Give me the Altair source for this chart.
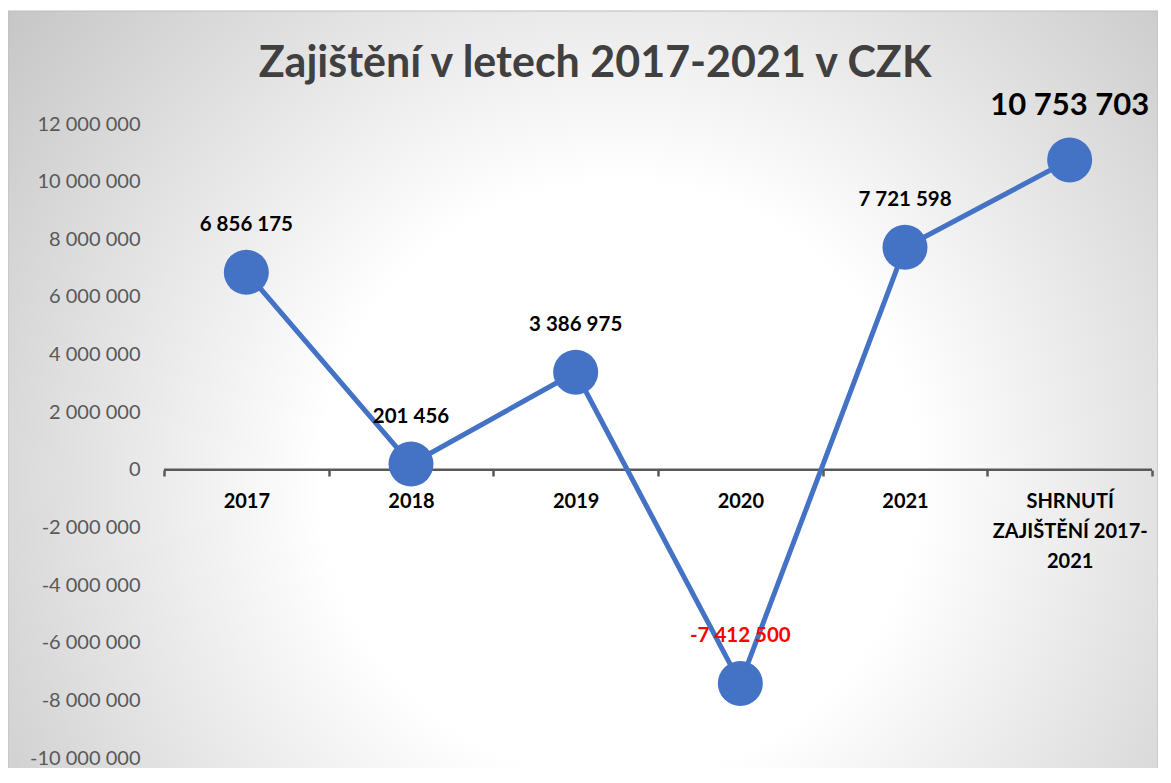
import json
import altair as alt
import pandas as pd

# ---- data ----
categories = ["2017", "2018", "2019", "2020", "2021", "SHRNUTÍ ZAJIŠTĚNÍ 2017-2021"]
values = [6856175, 201456, 3386975, -7412500, 7721598, 10753703]
summary_label_lines = ["SHRNUTÍ", "ZAJIŠTĚNÍ 2017-", "2021"]
y_ticks = [-10000000, -8000000, -6000000, -4000000, -2000000, 0,
           2000000, 4000000, 6000000, 8000000, 10000000, 12000000]
title_text = "Zajištění v letech 2017-2021 v CZK"

df = pd.DataFrame({"cat": categories, "value": values})

W, H = 988, 634
PAD = {"left": 156, "top": 116, "right": 6, "bottom": 10}
SVG_W = PAD["left"] + W + PAD["right"]
BLUE = "#4472C4"
FONT = "Lato"

label_expr = (f"datum.value == {json.dumps(categories[-1], ensure_ascii=False)} ? "
              f"{json.dumps(summary_label_lines, ensure_ascii=False)} : datum.label")

x_enc = alt.X("cat:N", sort=categories,
              scale=alt.Scale(type="band", paddingInner=0, paddingOuter=0),
              axis=alt.Axis(title=None, orient="bottom", offset=-288, domain=False,
                            ticks=True, tickBand="extent", tickSize=6, tickWidth=2.5,
                            tickColor="#595959", labelFont=FONT, labelFontSize=20,
                            labelFontWeight="bold", labelColor="#000000", labelAngle=0,
                            labelPadding=15, labelLineHeight=30, labelLimit=400,
                            labelExpr=label_expr, grid=False, zindex=1))
y_enc = alt.Y("value:Q",
              scale=alt.Scale(domain=[y_ticks[0], y_ticks[-1]], nice=False, zero=False),
              axis=alt.Axis(title=None, values=y_ticks, format=",d", labelFont=FONT,
                            labelFontSize=20, labelColor="#595959", ticks=False, tickSize=0,
                            domain=False, grid=False, labelPadding=24, zindex=1))

# background panel with radial gradient (square box so the gradient is circular)
bg = alt.Chart(alt.Data(values=[{}])).mark_rect(
    fill={"gradient": "radial",
          "x1": 0.532, "y1": 0.408, "r1": 0,
          "x2": 0.532, "y2": 0.408, "r2": 0.7,
          "stops": [{"offset": 0, "color": "#ffffff"},
                    {"offset": 0.37, "color": "#ffffff"},
                    {"offset": 1, "color": "#c2c2c2"}]},
    stroke="#bdbdbd", strokeWidth=1
).encode(x=alt.value(-PAD["left"]), x2=alt.value(-PAD["left"] + SVG_W),
         y=alt.value(3 - PAD["top"]), y2=alt.value(3 - PAD["top"] + SVG_W))

zero_rule = alt.Chart(alt.Data(values=[{}])).mark_rule(
    color="#595959", strokeWidth=2.5).encode(y=alt.datum(0))

base = alt.Chart(df)
line = base.mark_line(color=BLUE, strokeWidth=5).encode(x=x_enc, y=y_enc)
points = base.mark_circle(size=2025, color=BLUE, opacity=1).encode(x=x_enc, y=y_enc)

labels = base.transform_filter(
    alt.datum.cat != categories[-1]
).mark_text(font=FONT, fontSize=20.5, fontWeight="bold", baseline="alphabetic",
            align="center", dy=-41).encode(
    x=x_enc, y=y_enc,
    text=alt.Text("value:Q", format=",d"),
    color=alt.condition(alt.datum.value < 0, alt.value("#FF0000"), alt.value("#000000")))

summary_label = base.transform_filter(
    alt.datum.cat == categories[-1]
).mark_text(font=FONT, fontSize=31, fontWeight="bold", baseline="alphabetic",
            align="center", dy=-45, color="#000000").encode(
    x=x_enc, y=y_enc, text=alt.Text("value:Q", format=",d"))

title = alt.Chart(alt.Data(values=[{}])).mark_text(
    text=title_text, font=FONT, fontSize=43, fontWeight="bold", color="#404040",
    align="center", baseline="alphabetic"
).encode(x=alt.value(595 - 164), y=alt.value(77 - 124))

chart = alt.layer(bg, zero_rule, line, points, labels, summary_label, title).properties(
    width=W, height=H, autosize="none", padding=PAD
).configure_view(stroke=None).configure(
    locale={"number": {"decimal": ",", "thousands": " ", "grouping": [3],
                       "currency": ["", " Kč"], "minus": "-"}}
)

chart.save("out.html", embed_options={"renderer": "svg", "actions": False})
